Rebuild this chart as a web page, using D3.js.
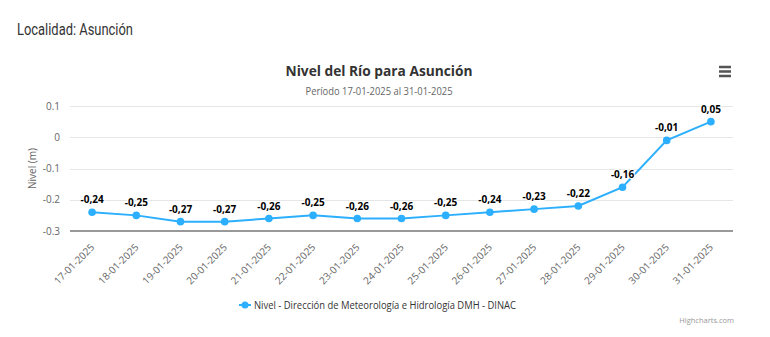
<!DOCTYPE html>
<html><head><meta charset="utf-8">
<script src="https://cdn.jsdelivr.net/npm/d3@7"></script>
<style>
body{margin:0;background:#fff;}
svg{display:block;}
</style></head>
<body>
<svg id="c" width="770" height="337"></svg>
<script>
const categories = ["17-01-2025","18-01-2025","19-01-2025","20-01-2025","21-01-2025","22-01-2025","23-01-2025","24-01-2025","25-01-2025","26-01-2025","27-01-2025","28-01-2025","29-01-2025","30-01-2025","31-01-2025"];
const nivel = [-0.24,-0.25,-0.27,-0.27,-0.26,-0.25,-0.26,-0.26,-0.25,-0.24,-0.23,-0.22,-0.16,-0.01,0.05];
const yTicks = [-0.3,-0.2,-0.1,0,0.1];
const yTickLabels = ["-0.3","-0.2","-0.1","0","0.1"];
const seriesName = "Nivel - Dirección de Meteorología e Hidrología DMH - DINAC";

const font = "'Open Sans', sans-serif";
const svg = d3.select("#c");
const color = "#2caffe";
const L = 70, R = 733, T = 106, B = 231;

svg.append("text").attr("x",17).attr("y",35).attr("font-family","Roboto, sans-serif")
  .attr("font-size",16).attr("fill","#333").attr("textLength",116).attr("lengthAdjust","spacingAndGlyphs")
  .text("Localidad: Asunción");

svg.append("text").attr("x",379).attr("y",76).attr("text-anchor","middle").attr("font-family",font)
  .attr("font-size",15).attr("font-weight","bold").attr("fill","#333")
  .attr("textLength",187).attr("lengthAdjust","spacingAndGlyphs").text("Nivel del Río para Asunción");
svg.append("text").attr("x",379).attr("y",95).attr("text-anchor","middle").attr("font-family",font)
  .attr("font-size",10).attr("fill","#666").attr("textLength",147).attr("lengthAdjust","spacingAndGlyphs")
  .text("Período 17-01-2025 al 31-01-2025");

// menu icon
[67,71.5,76].forEach(y=>svg.append("rect").attr("x",719).attr("y",y-1.25).attr("width",12).attr("height",2.5).attr("fill","#555"));

const x = d3.scaleBand().domain(categories).range([L,R]);
const y = d3.scaleLinear().domain([-0.3,0.1]).range([B,T]);

const g = svg.append("g");
g.selectAll(".grid").data(yTicks.filter(v=>v!==-0.3)).join("line")
  .attr("x1",L).attr("x2",R).attr("y1",d=>Math.round(y(d))+0.5).attr("y2",d=>Math.round(y(d))+0.5)
  .attr("stroke","#e6e6e6").attr("stroke-width",1);

const yAxis = svg.append("g").attr("transform",`translate(${L},0)`)
  .call(d3.axisLeft(y).tickValues(yTicks).tickSize(0).tickPadding(10).tickFormat((d,i)=>yTickLabels[i]));
yAxis.select(".domain").remove();
yAxis.selectAll("text").attr("font-family",font).attr("font-size",10).attr("fill","#666");

svg.append("text").attr("transform",`translate(36,${(T+B)/2}) rotate(-90)`).attr("text-anchor","middle")
  .attr("font-family",font).attr("font-size",10).attr("fill","#666").text("Nivel (m)");

const xAxis = svg.append("g").attr("transform",`translate(0,${B})`)
  .call(d3.axisBottom(x).tickSize(0).tickPadding(0));
xAxis.select(".domain").attr("stroke","#999").attr("stroke-width",2).attr("d",`M${L},0H${R}`);
xAxis.selectAll("text").attr("font-family",font).attr("font-size",10).attr("fill","#666")
  .attr("text-anchor","end").attr("dy",0).attr("transform","translate(3,17) rotate(-45)");

const cx = d=>x(d)+x.bandwidth()/2;
const line = d3.line().x((d,i)=>cx(categories[i])).y(d=>y(d));
svg.append("path").datum(nivel).attr("d",line).attr("fill","none").attr("stroke",color).attr("stroke-width",2);
svg.selectAll(".pt").data(nivel).join("circle").attr("cx",(d,i)=>cx(categories[i])).attr("cy",d=>y(d))
  .attr("r",3.8).attr("fill",color);

svg.selectAll(".lbl").data(nivel).join("text").attr("x",(d,i)=>cx(categories[i])).attr("y",d=>y(d)-9)
  .attr("text-anchor","middle").attr("font-family",font).attr("font-size",10).attr("font-weight","bold")
  .attr("fill","#000").attr("stroke","#fff").attr("stroke-width",2).attr("paint-order","stroke")
  .text(d=>d3.format(".2f")(d).replace(".",",").replace("−","-"));

// legend
const lg = svg.append("g");
lg.append("text").attr("x",254).attr("y",309).attr("font-family",font).attr("font-size",10)
  .attr("fill","#333").attr("textLength",262).attr("lengthAdjust","spacingAndGlyphs").text(seriesName);
lg.append("line").attr("x1",239).attr("x2",251).attr("y1",305).attr("y2",305).attr("stroke",color).attr("stroke-width",2);
lg.append("circle").attr("cx",245).attr("cy",305).attr("r",3.5).attr("fill",color);

svg.append("text").attr("x",734).attr("y",323).attr("text-anchor","end").attr("font-family",font)
  .attr("font-size",7.5).attr("fill","#999").text("Highcharts.com");
</script>
</body></html>
